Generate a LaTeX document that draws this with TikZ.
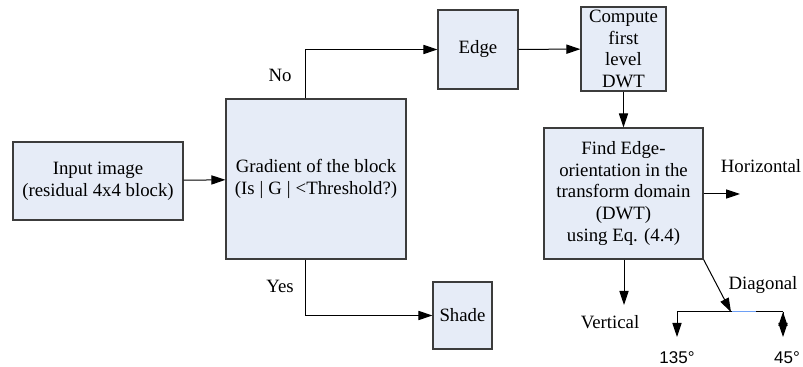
\documentclass[tikz,border=0pt]{standalone}
\usepackage{fontspec}
\setmainfont{Liberation Serif}
\newfontfamily\degfont{Liberation Sans}
\usetikzlibrary{arrows.meta, calc}
\definecolor{boxfill}{RGB}{230,236,247}
\definecolor{boxline}{RGB}{60,60,60}
\definecolor{splitblue}{RGB}{110,160,245}

\begin{document}
\begin{tikzpicture}[x=0.5pt, y=-0.5pt, line width=0.5pt,
    block/.style={draw=boxline, fill=boxfill, line width=0.6pt, inner sep=0pt, align=center,
        font=\fontsize{9.4pt}{10.8pt}\selectfont},
    lbl/.style={inner sep=0pt, font=\fontsize{9.4pt}{10.8pt}\selectfont},
    deg/.style={inner sep=0pt, font=\degfont\fontsize{8.5pt}{10pt}\selectfont},
    >={Triangle[length=7pt, width=4.6pt]}]
    \useasboundingbox (0,0) rectangle (803,367);

    \node[block, minimum width=85pt, minimum height=39pt] (input) at (98, 181) {Input image\\(residual 4x4 block)}; % input
    \node[block, minimum width=90pt, minimum height=80pt] (grad) at (316, 179) {Gradient of the block\\(Is\hspace{2.5pt}|\hspace{2.5pt}G\hspace{2.5pt}|\hspace{2.5pt}<Threshold?)}; % gradient
    \node[block, minimum width=40pt, minimum height=39.5pt] (edge) at (478, 49.5) {Edge}; % edge
    \node[block, minimum width=42.5pt, minimum height=42pt] (dwt) at (623.5, 49) {Compute\\first\\level\\DWT}; % dwt
    \node[block, minimum width=79.5pt, minimum height=65.5pt] (find) at (623.5, 193.5) {Find Edge-\\orientation in the\\transform domain\\(DWT)\\using Eq. (4.4)}; % orientation
    \node[block, minimum width=29.5pt, minimum height=33.5pt] (shade) at (462.5, 315.5) {Shade}; % shade

    \coordinate (hor) at (740, 194);
    \coordinate (ver) at (624, 305);
    \coordinate (dia) at (731, 312);
    \coordinate (d135) at (677, 312);
    \coordinate (d45) at (783, 312);
    \coordinate (e135) at (677, 337);
    \coordinate (e45) at (783, 337);

    \draw[->]
        (input) edge (grad)
        (edge) edge (dwt)
        (dwt) edge (find)
        (find.east |- hor) edge (hor)
        (find.south -| ver) edge (ver)
        (find.south east) edge (dia)
        (d135) edge (e135)
        (d45) edge (e45)
        ;
    \draw[->] ([xshift=-5.5pt]grad.north) |- (edge);
    \draw[->] ([xshift=-5.5pt]grad.south) |- (shade);
    \draw (d135) -- (d45);
    \draw[splitblue] (732, 312) -- (756, 312);

    \node[lbl] (no) at (280, 75) {No};
    \node[lbl] (yes) at (280, 286) {Yes};
    \node[lbl] (horlbl) at (761, 166) {Horizontal};
    \node[lbl] (verlbl) at (610, 322) {Vertical};
    \node[lbl] (dialbl) at (763, 285) {Diagonal};
    \node[deg] (l135) at (677, 358) {135°};
    \node[deg] (l45) at (787, 358) {45°};
\end{tikzpicture}
\end{document}
